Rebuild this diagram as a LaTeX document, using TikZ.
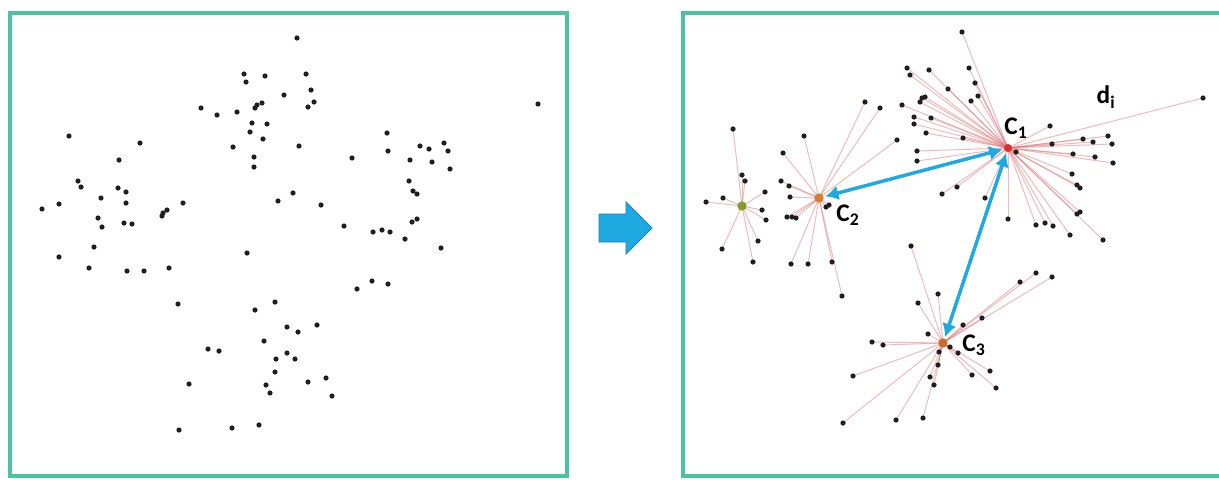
\documentclass[tikz,border=0pt]{standalone}
\usepackage{fontspec}
\setsansfont{Carlito}
\usetikzlibrary{arrows.meta}
\pgfdeclarelayer{back}
\pgfdeclarelayer{bg}
\pgfsetlayers{back,bg,main}
\definecolor{framecol}{RGB}{72,196,160}
\definecolor{raycol}{RGB}{222,120,125}
\definecolor{blu}{RGB}{30,170,225}
\definecolor{bluedge}{RGB}{25,130,190}
\begin{document}
\begin{tikzpicture}[x=0.75pt,y=-0.75pt,
  dot/.style={circle,fill=black!88,inner sep=0,minimum size=3.9pt},
  ray/.style={draw=raycol,line width=0.75pt,opacity=0.5},
  ctr/.style={circle,inner sep=0,minimum size=6pt},
  panel/.style={draw=framecol,line width=2.3pt},
  link/.style={draw=blu,line width=2.6pt,{Latex[length=10pt,width=11pt]}-{Latex[length=10pt,width=11pt]},shorten <=1pt,shorten >=1pt},
  lbl/.style={font=\sffamily\bfseries\fontsize{19}{19}\selectfont,inner sep=0}]
\useasboundingbox (0,0) rectangle (1219,479);
\begin{pgfonlayer}{back}
\fill[white] (0,0) rectangle (1219,479);
\end{pgfonlayer}
% panels
\path[panel] (10,13) rectangle (567,476);
\path[panel] (683,13) rectangle (1221,476);
% transition arrow
\path[fill=blu,draw=bluedge,line width=0.6pt,line join=miter]
  (599,214) -- (626,214) -- (626,202) -- (652,228) -- (626,254) -- (626,242) -- (599,242) -- cycle;
% left panel: raw points
\foreach \x/\y [count=\i] in {297/38,244/74,246/82,265/76,306/74,284/95,311/90,314/102,308/107,
  201/108,217/115,237/112,257/105,262/103,255/108,252/123,267/124,250/132,263/139,233/147,
  299/146,254/157,254/167,538/104,69/136,140/143,119/160,78/181,81/187,118/188,126/192,
  101/198,126/203,42/209,59/204,163/213,167/210,162/216,183/203,98/218,102/227,124/223,
  132/224,293/193,278/201,321/205,387/133,388/151,352/158,420/146,429/149,444/143,448/151,
  410/160,432/162,450/169,409/181,413/191,417/194,412/222,417/219,344/226,373/232,382/230,
  390/232,405/239,441/248,59/257,94/247,89/268,127/271,144/271,169/268,247/253,178/304,
  275/302,255/310,287/327,298/332,317/325,264/341,208/349,219/351,287/353,295/359,276/359,
  275/372,266/385,270/393,189/384,308/382,326/378,332/396,179/430,232/428,259/425,357/289,
  372/281,388/284}
  \node[dot] (L\i) at (\x,\y) {};
% right panel: cluster centres
\node[ctr,fill={rgb,255:red,225;green,45;blue,45},minimum size=6pt] (c1) at (1008,148) {};
\node[ctr,fill={rgb,255:red,215;green,125;blue,45},minimum size=7pt] (c2) at (819,198) {};
\node[ctr,fill={rgb,255:red,205;green,110;blue,40},minimum size=7pt] (c3) at (943,343) {};
\node[ctr,fill={rgb,255:red,135;green,155;blue,45},minimum size=7pt] (c0) at (742,206) {};
% cluster members with their distances to the centre
\foreach \x/\y [count=\i] in {733/129,742/175,745/181,706/202,723/198,765/192,762/210,766/220,
  758/241,722/249,753/262}
  {\node[dot] (g\i) at (\x,\y) {};
   \begin{pgfonlayer}{bg}\draw[ray] (c0.center) -- (g\i.center);\end{pgfonlayer}}
\foreach \x/\y [count=\i] in {804/136,783/153,781/181,789/186,790/197,787/217,792/217,796/218,
  826/207,829/205,791/264,808/264,832/262,842/296,865/102,880/108,897/140}
  {\node[dot] (b\i) at (\x,\y) {};
   \begin{pgfonlayer}{bg}\draw[ray] (c2.center) -- (b\i.center);\end{pgfonlayer}}
\foreach \x/\y [count=\i] in {911/246,938/294,918/303,928/334,872/342,883/345,853/376,843/423,
  896/420,923/418,938/365,930/377,934/385,939/352,950/347,958/353,972/375,990/371,996/388,
  963/325,982/318,1020/282,1036/273,1052/277}
  {\node[dot] (t\i) at (\x,\y) {};
   \begin{pgfonlayer}{bg}\draw[ray] (c3.center) -- (t\i.center);\end{pgfonlayer}}
\foreach \x/\y [count=\i] in {962/32,907/68,910/75,929/70,969/68,975/83,948/89,978/96,971/101,
  922/98,925/97,920/102,902/105,914/117,914/124,931/118,926/133,963/138,917/151,917/161,
  1050/126,1083/139,1093/142,1108/136,1112/144,1052/144,1016/152,1073/154,1095/157,1113/163,
  1072/174,1077/185,1080/188,957/187,942/194,985/198,1008/219,1036/225,1045/223,1053/226,
  1077/214,1080/212,1070/235,1103/240,1203/98}
  {\node[dot] (a\i) at (\x,\y) {};
   \begin{pgfonlayer}{bg}\draw[ray] (c1.center) -- (a\i.center);\end{pgfonlayer}}
% inter-centre distances
\draw[link] (c2) -- (c1);
\draw[link] (c3) -- (c1);
% labels
\node[lbl] (l1) at (1016,128) {C\textsubscript{1}};
\node[lbl] (l2) at (848,215) {C\textsubscript{2}};
\node[lbl] (l3) at (974,345) {C\textsubscript{3}};
\node[lbl] (ld) at (1106,97) {d\textsubscript{i}};
\end{tikzpicture}
\end{document}
